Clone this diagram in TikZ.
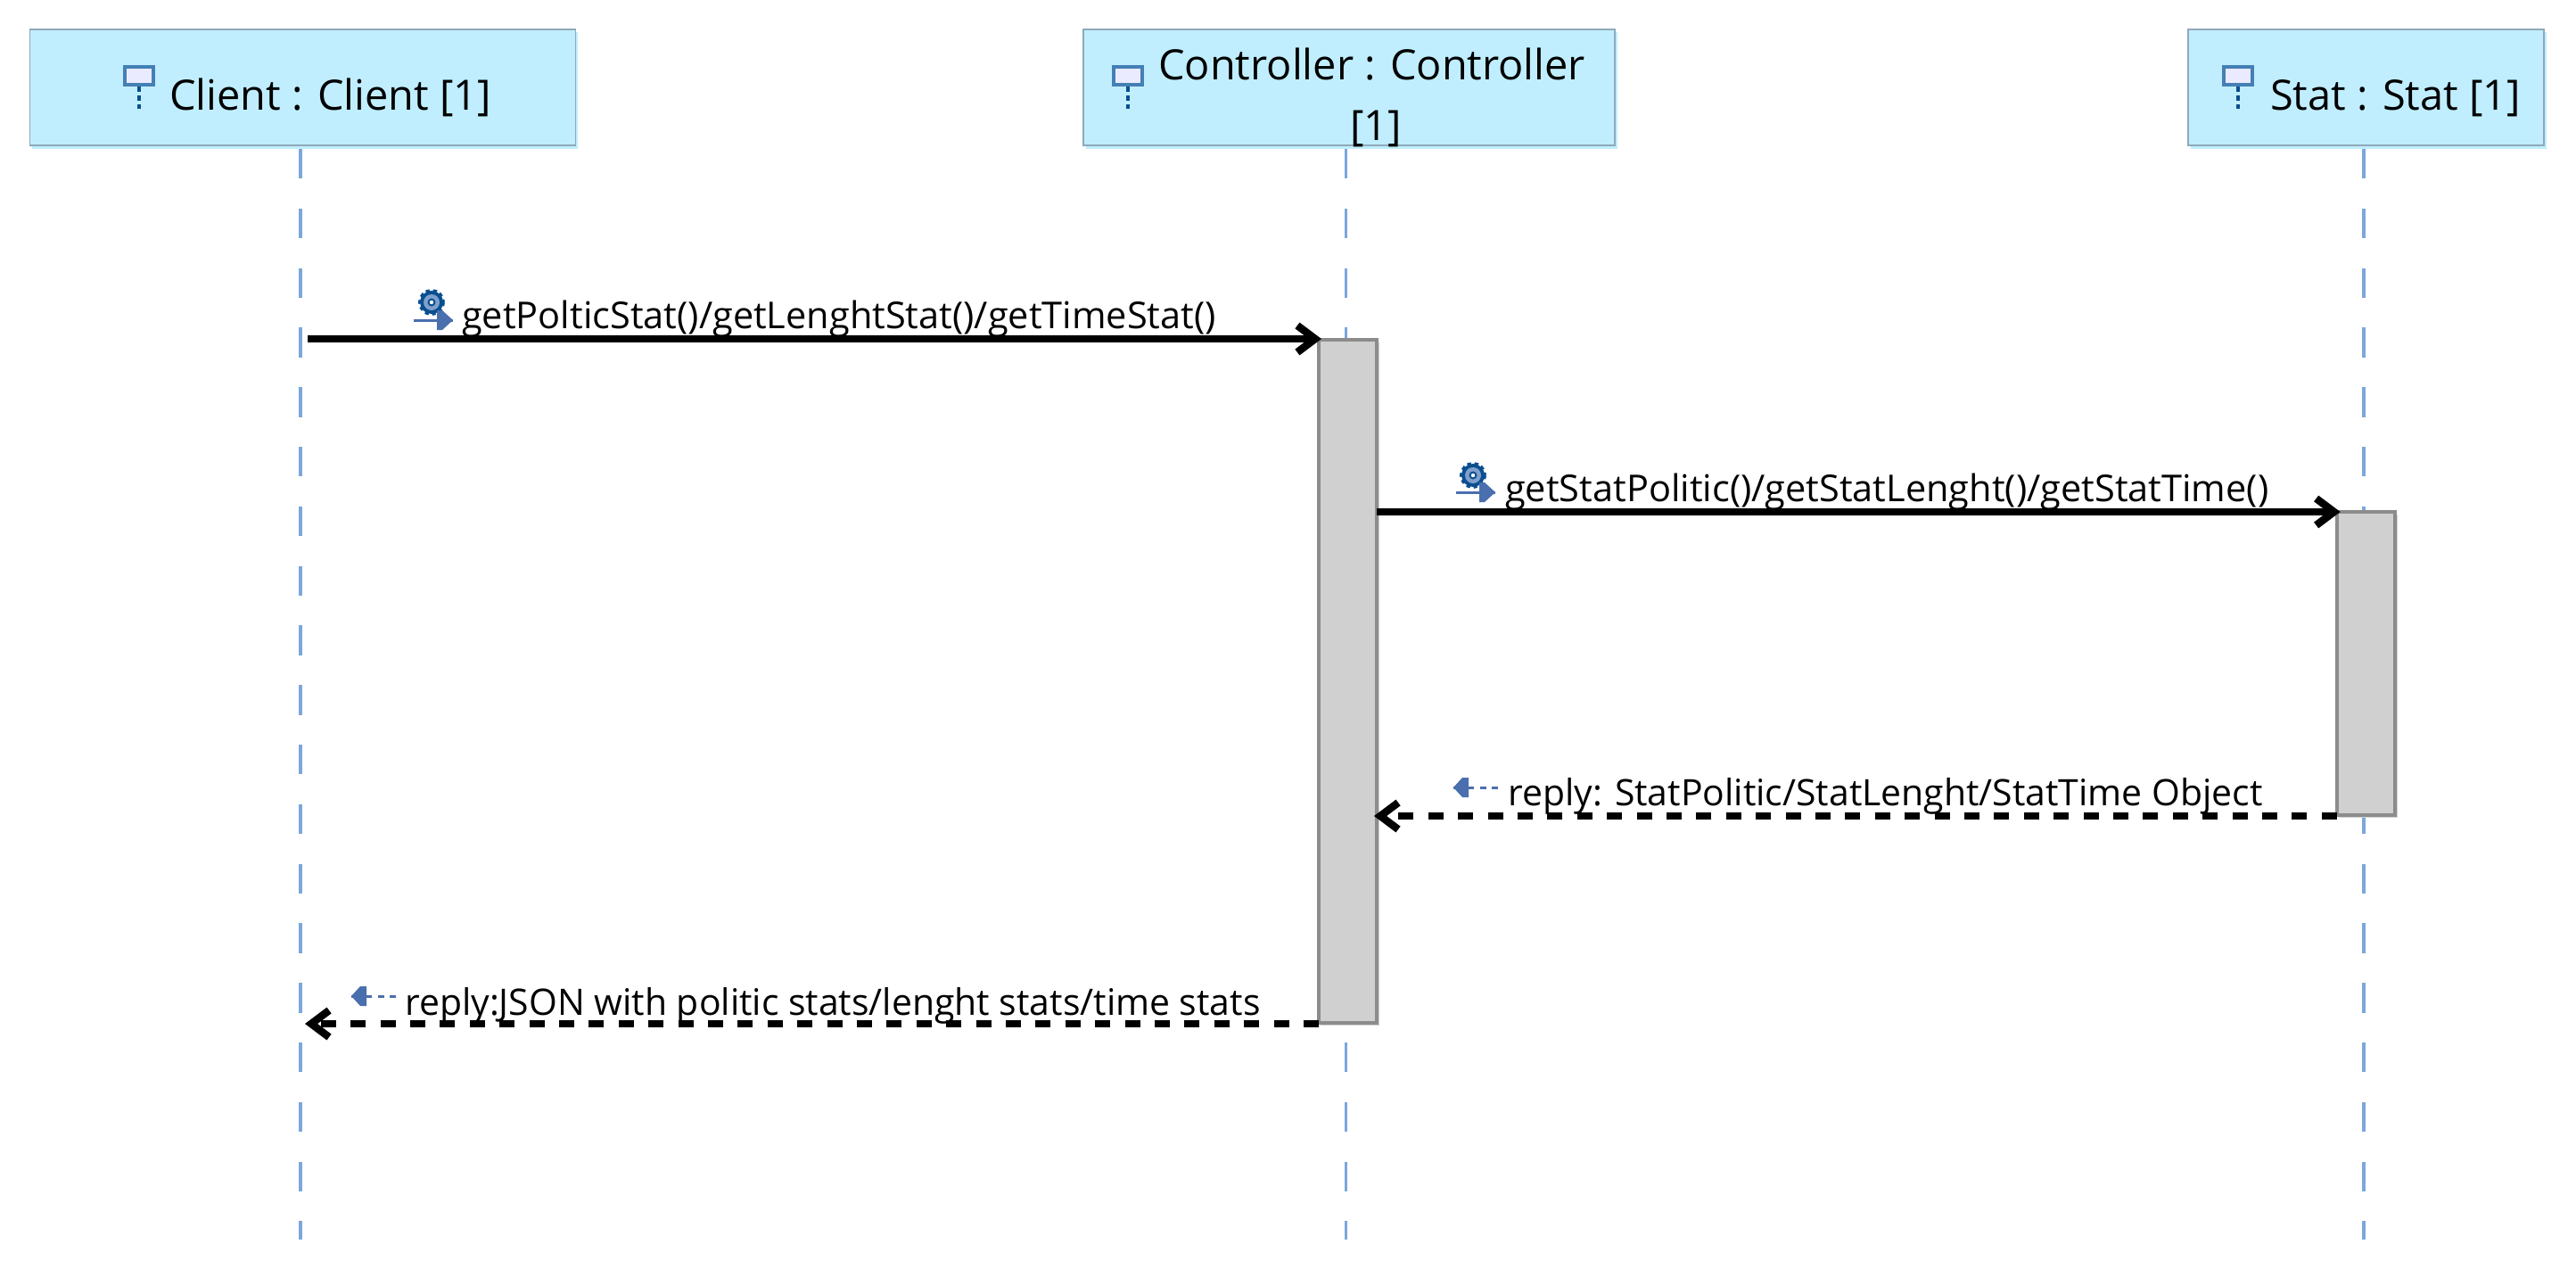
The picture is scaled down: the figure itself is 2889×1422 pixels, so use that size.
\documentclass[tikz,border=0pt]{standalone}
\usepackage{fontspec}
\setmainfont{Open Sans}
\usetikzlibrary{arrows.meta}
\definecolor{headfill}{HTML}{C0EEFF}
\definecolor{headline}{HTML}{8FA9B8}
\definecolor{lifeblue}{HTML}{7BA7DB}
\definecolor{barfill}{HTML}{D0D0D0}
\definecolor{barline}{HTML}{8C8C8C}
\definecolor{iconblue}{HTML}{4A6FAE}
\definecolor{icondark}{HTML}{0A4F8F}
\definecolor{iconmid}{HTML}{7F9FCC}
\definecolor{framebl}{HTML}{4480B5}
\tikzset{
  x=1pt,y=-1pt,
  headbox/.style={draw=headline,line width=1.2pt,fill=headfill,rectangle,inner sep=0,outer sep=0},
  headshadow/.style={fill=headfill,draw=none},
  headtext/.style={anchor=base west,inner sep=0,font=\fontsize{46.9}{47}\selectfont},
  msgtext/.style={anchor=base west,inner sep=0,font=\fontsize{41.5}{41.5}\selectfont},
  replytext/.style={anchor=base west,inner sep=0,font=\fontsize{40.9}{41}\selectfont},
  lifeline/.style={draw=lifeblue,line width=3.6pt,dash pattern=on 33.4pt off 33.4pt},
  activation/.style={draw=barline,line width=3.6pt,fill=barfill,rectangle,inner sep=0,outer sep=0},
  barshadow/.style={fill=black!18,draw=none},
  callmsg/.style={draw=black,line width=7.5pt,shorten >=-4pt,-{Straight Barb[length=20pt,width=30pt,line width=8.5pt]}},
  replymsg/.style={draw=black,line width=7.5pt,dash pattern=on 17pt off 16.4pt,shorten >=-3pt,-{Straight Barb[length=20pt,width=30pt,line width=8.5pt]}},
  lifeicon/.pic={
    \fill[white!92!blue] (-16,-12) rectangle (16,12);
    \draw[framebl,line width=4pt] (-16,-10) rectangle (16,10);
    \draw[icondark,line width=3.4pt,dash pattern=on 6pt off 4pt] (0,12) -- (0,37);
  },
  gearicon/.pic={
    \draw[icondark,line width=4pt,dash pattern=on 4.2pt off 3.6pt] (0,0) circle[radius=13];
    \fill[icondark] (0,0) circle[radius=13];
    \fill[iconmid] (0,0) circle[radius=9];
    \fill[icondark] (0,0) circle[radius=4.5];
    \fill[white] (0,0) circle[radius=2.2];
  },
  callicon/.pic={
    \draw[iconblue,line width=3pt] (-22,0) -- (22,0);
    \fill[iconblue] (4,-11) -- (10,-11) -- (22,0) -- (10,11) -- (4,11) -- cycle;
  },
  replyicon/.pic={
    \fill[iconblue] (17,-11) -- (10,-11) -- (0,0) -- (10,11) -- (17,11) -- cycle;
    \draw[iconblue,line width=3pt] (0,0) -- (23,0);
    \draw[iconblue,line width=3pt] (30,0) -- (37,0);
    \draw[iconblue,line width=3pt] (43,0) -- (50,0);
  }
}
\begin{document}
\begin{tikzpicture}
\useasboundingbox (0,0) rectangle (2889,1422);
\fill[white] (0,0) rectangle (2889,1422);
% header shadows
\fill[headshadow] (36,36) rectangle (648,167);
\fill[headshadow] (1218,36) rectangle (1814,167);
\fill[headshadow] (2457,36) rectangle (2856,167);
% header boxes
\node[headbox,minimum width=612pt,minimum height=130pt] (client) at (339.5,98) {};
\node[headbox,minimum width=596pt,minimum height=130pt] (controller) at (1513,98) {};
\node[headbox,minimum width=399pt,minimum height=130pt] (stat) at (2653.5,98) {};
% free lifeline ends
\coordinate (clientTop) at (337,167);
\coordinate (controllerTop) at (1509.5,167);
\coordinate (statTop) at (2651,167);
\coordinate (clientEnd) at (337,1390);
\coordinate (controllerEnd) at (1509.5,1390);
\coordinate (statEnd) at (2651,1390);
\draw[lifeline] (clientTop) -- (clientEnd);
\draw[lifeline] (controllerTop) -- (controllerEnd);
\draw[lifeline] (statTop) -- (statEnd);
% activation bars
\fill[barshadow] (1481,384) rectangle (1547,1150);
\fill[barshadow] (2623,577) rectangle (2689,917);
\node[activation,minimum width=65pt,minimum height=766pt] (barCtrl) at (1511.5,764) {};
\node[activation,minimum width=65pt,minimum height=340pt] (barStat) at (2653.2,744) {};
% header icons and text
\pic at (156,85) {lifeicon};
\pic at (1265,85) {lifeicon};
\pic at (2510,85) {lifeicon};
\node[headtext] (clientLabel) at (190,123) {Client : Client [1]};
\node[headtext] (controllerLabel1) at (1299,89) {Controller : Controller};
\node[headtext] (controllerLabel2) at (1514,157) {[1]};
\node[headtext] (statLabel) at (2546,123) {Stat : Stat [1]};
% message ends
\coordinate (m1start) at (345,380);
\coordinate (m1end) at (1478,380);
\coordinate (m4end) at (345,1148);
\coordinate (m2y) at (0,574);
\coordinate (m3y) at (0,915);
\coordinate (m4y) at (0,1148);
% messages
\draw[callmsg] (m1start) -- (m1end);
\draw[callmsg] (barCtrl.east |- m2y) -- (barStat.west |- m2y);
\draw[replymsg] (barStat.west |- m3y) -- (barCtrl.east |- m3y);
\draw[replymsg] (barCtrl.west |- m4y) -- (m4end);
% message icons and labels
\pic at (484,339) {gearicon};
\pic at (486,359) {callicon};
\node[msgtext] (m1label) at (518,368) {getPolticStat()/getLenghtStat()/getTimeStat()};
\pic at (1652,533) {gearicon};
\pic at (1655,552) {callicon};
\node[msgtext] (m2label) at (1688,562) {getStatPolitic()/getStatLenght()/getStatTime()};
\pic at (1630,883) {replyicon};
\node[replytext] (m3label) at (1691,903) {reply: StatPolitic/StatLenght/StatTime Object};
\pic at (394,1117) {replyicon};
\node[replytext] (m4label) at (454,1138) {reply:JSON with politic stats/lenght stats/time stats};
\end{tikzpicture}
\end{document}
